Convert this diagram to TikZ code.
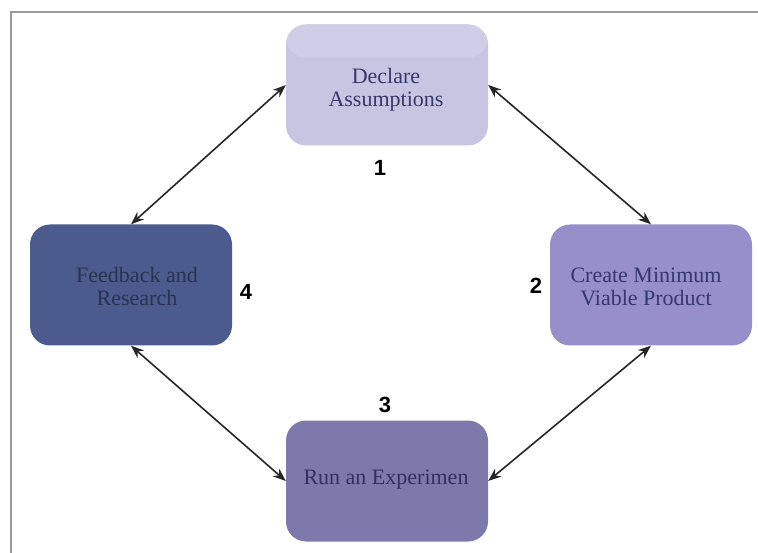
\documentclass[tikz,border=0pt]{standalone}
\usepackage{fontspec}
\setmainfont{Liberation Serif}
\newfontfamily\numfont{Liberation Sans}
\usetikzlibrary{arrows.meta}

\definecolor{declarefill}{HTML}{C7C5E1}
\definecolor{declaretop}{HTML}{D0CEE7}
\definecolor{feedbackfill}{HTML}{4B5B8E}
\definecolor{createfill}{HTML}{978FC9}
\definecolor{runfill}{HTML}{7D79AA}
\definecolor{darktext}{HTML}{35386A}

\begin{document}
\begin{tikzpicture}[x=1pt,y=-1pt,
    stage/.style={rectangle, rounded corners=20pt, minimum width=202pt, minimum height=121pt, inner sep=0pt},
    stagetext/.style={align=center, inner sep=0pt, text=darktext, font=\fontsize{22}{23}\selectfont},
    link/.style={{Stealth[length=13pt,width=10pt]}-{Stealth[length=13pt,width=10pt]}, line width=1.6pt, draw=black!85},
    num/.style={font=\numfont\bfseries\fontsize{22}{22}\selectfont}]
        \useasboundingbox (0,0) rectangle (758,553);
        \draw[gray!80, line width=1.5pt] (11,553) -- (11,12) -- (758,12);
        % the four stages
        \node[stage, fill=declarefill,
            path picture={\fill[declaretop] (path picture bounding box.north west)
                rectangle ([yshift=-33pt]path picture bounding box.north east);}]
            (declare) at (387,85) {};
        \node[stage, fill=createfill] (create) at (651,285) {};
        \node[stage, fill=runfill] (run) at (387,481) {};
        \node[stage, fill=feedbackfill] (feedback) at (131,285) {};
        \node[stagetext] (declaretext) at (386,90) {Declare\\Assumptions};
        \node[stagetext] (createtext) at (646,287) {Create Minimum\\Viable Product};
        \node[stagetext, text=darktext!90!black] (runtext) at (386,480) {Run an Experimen};
        \node[stagetext, text=feedbackfill!55!black] (feedbacktext) at (137,286) {Feedback and\\Research};
        % step numbers
        \node[num] (n1) at (380,168) {1};
        \node[num] (n2) at (536,286) {2};
        \node[num] (n3) at (385,405) {3};
        \node[num] (n4) at (246,292) {4};
        % links
        \draw[link] (declare.west) -- (feedback.north);
        \draw[link] (declare.east) -- (create.north);
        \draw[link] (feedback.south) -- (run.west);
        \draw[link] (create.south) -- (run.east);
    \end{tikzpicture}
\end{document}
